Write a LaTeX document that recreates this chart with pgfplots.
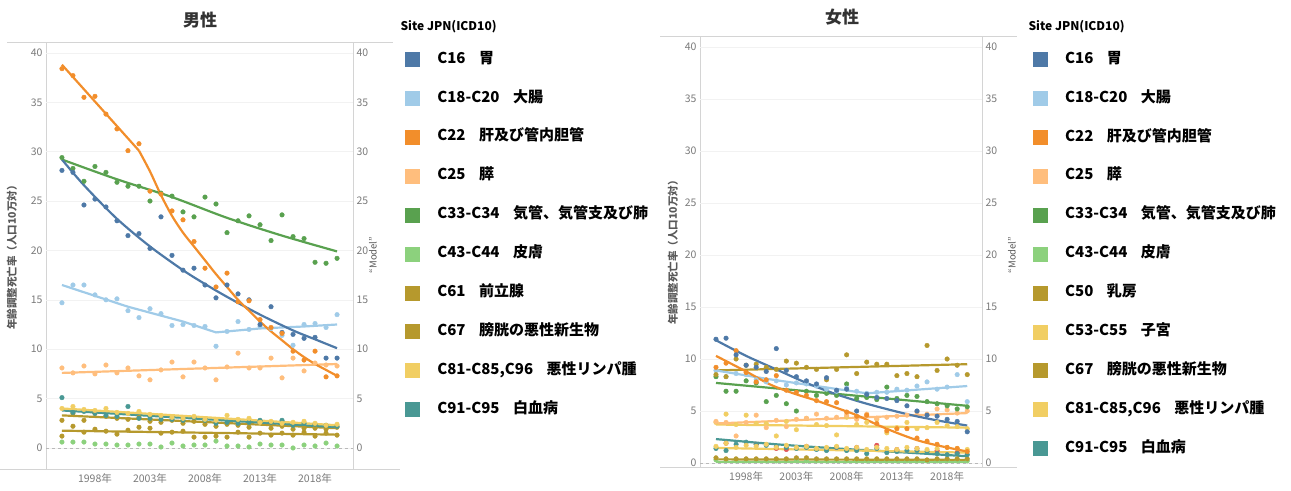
\documentclass[border=0pt]{standalone}
\usepackage{fontspec}
\setmainfont{Noto Sans CJK JP}
\usepackage{pgfplots}
\usepackage{pgfplotstable}
\pgfplotsset{compat=1.18}

\definecolor{cA}{HTML}{4E79A7}
\definecolor{cB}{HTML}{A0CBE8}
\definecolor{cC}{HTML}{F28E2B}
\definecolor{cD}{HTML}{FFBE7D}
\definecolor{cE}{HTML}{59A14F}
\definecolor{cF}{HTML}{8CD17D}
\definecolor{cG}{HTML}{B6992D}
\definecolor{cH}{HTML}{F1CE63}
\definecolor{cI}{HTML}{499894}
\definecolor{cR}{HTML}{E15759}
\definecolor{tick}{HTML}{7A7A7A}
\definecolor{frame}{HTML}{D4D4D4}

% male: age adjusted rates, 1995-2020
\pgfplotstableread{
yr   c16  c18  c22  c25  c33  c43 c61 c67 c81 c91
1995 28.1 14.7 38.4 8.1 29.4 0.6 2.8 1.2 4.0 5.1
1996 27.9 16.5 37.7 7.6 28.3 0.6 3.5 2.2 4.2 3.6
1997 24.6 16.5 35.5 8.3 27.0 0.6 2.8 1.6 3.9 3.7
1998 25.2 15.5 35.6 7.5 28.5 0.4 3.5 1.9 3.8 3.5
1999 24.4 15.0 33.8 8.4 27.9 0.4 3.2 1.7 4.0 3.3
2000 23.0 15.1 32.3 7.6 26.9 0.3 3.0 1.4 3.6 3.2
2001 21.5 13.9 30.1 8.1 26.5 0.3 2.9 1.8 3.5 4.2
2002 21.7 13.2 30.8 7.3 26.5 0.4 3.1 2.1 3.7 3.0
2003 20.2 14.1 26.0 6.9 25.0 0.4 2.7 2.0 3.4 3.0
2004 23.4 13.6 25.7 7.9 25.8 0.1 2.6 1.5 3.3 2.9
2005 19.5 12.4 24.0 8.7 25.5 0.5 2.8 1.6 3.1 2.9
2006 18.0 12.5 23.1 7.2 23.9 0.2 2.5 1.7 3.0 2.8
2007 18.2 12.4 20.9 8.7 23.4 0.3 2.7 1.1 3.2 3.1
2008 16.5 12.3 18.2 8.1 25.4 0.3 2.4 1.1 2.9 2.8
2009 15.2 10.3 16.3 6.9 24.7 0.7 2.2 1.2 2.8 2.5
2010 16.5 11.8 17.7 8.2 21.8 0.2 2.4 1.1 3.3 2.6
2011 15.6 12.8 14.8 9.6 23.0 0.2 2.3 1.6 2.9 2.5
2012 15.0 12.0 14.9 8.1 23.5 0.1 2.1 1.1 3.0 2.6
2013 12.5 12.3 13.0 8.1 22.6 0.4 2.6 1.5 2.6 2.8
2014 14.3 12.1 12.2 9.1 21.0 0.3 2.0 1.3 2.7 2.6
2015 11.7 11.4 11.6 7.1 23.6 0.3 2.2 1.5 2.5 2.8
2016 11.5 10.4 9.8  9.1 21.4 0.0 1.9 1.3 2.6 2.3
2017 11.1 12.5 8.9  7.8 21.2 0.3 2.0 1.6 2.7 2.5
2018 11.2 12.6 9.8  8.6 18.8 0.2 2.0 1.2 2.5 2.4
2019 9.1  12.2 7.2  8.4 18.7 0.5 1.9 1.5 2.3 2.3
2020 9.1  13.5 7.3  8.3 19.2 0.2 2.1 1.3 2.4 2.2
}\male

% female
\pgfplotstableread{
yr   f16  f18 f22  f25 f33 f43 f50  f53 f67 f81 f91
1995 11.9 8.9 9.2  4.0 8.3 0.3 8.5  3.9 0.5 1.6 1.4
1996 12.0 8.3 9.6  3.9 6.9 0.3 8.3  4.7 0.4 1.9 1.2
1997 10.4 8.6 10.8 2.6 6.9 0.2 10.0 3.7 0.4 1.5 1.8
1998 9.4  8.5 8.7  3.9 7.9 0.2 9.4  4.6 0.4 1.7 2.0
1999 9.2  8.0 7.8  4.6 7.7 0.3 9.5  3.8 0.4 1.6 1.8
2000 8.8  7.8 8.0  3.4 5.9 0.2 9.2  3.8 0.4 1.8 1.7
2001 11.0 7.9 8.4  4.1 6.5 0.2 9.0  2.6 0.4 1.5 1.6
2002 8.9  7.5 7.0  3.5 5.7 0.3 9.8  4.0 0.4 1.7 1.5
2003 8.3  7.7 6.8  4.2 5.0 0.3 9.6  3.2 0.5 1.5 1.4
2004 7.9  7.6 6.5  4.3 6.9 0.2 9.2  4.3 0.5 1.6 1.5
2005 7.6  7.4 6.0  4.7 6.5 0.2 9.0  3.7 0.4 1.4 1.3
2006 8.2  7.1 5.9  4.3 6.7 0.2 8.0  3.6 0.4 1.5 1.2
2007 7.0  6.9 5.8  4.4 6.5 0.3 9.0  2.7 0.4 1.6 1.5
2008 7.1  7.2 4.9  4.6 7.6 0.2 10.4 4.4 0.4 1.4 1.2
2009 5.0  6.9 4.5  4.2 6.2 0.2 8.6  3.7 0.4 1.5 1.2
2010 6.6  6.7 4.6  4.7 6.3 0.2 9.7  3.9 0.4 1.3 0.9
2011 6.3  6.8 3.8  4.3 6.1 0.3 9.5  4.2 0.4 1.5 1.4
2012 6.2  6.8 3.1  4.4 7.3 0.2 9.5  2.9 0.4 1.4 1.0
2013 6.0  7.1 3.3  4.5 6.2 0.2 8.4  3.4 0.4 1.3 1.1
2014 5.5  7.0 3.3  4.6 6.5 0.2 8.6  3.9 0.4 1.5 1.2
2015 5.0  7.4 2.4  4.9 6.4 0.2 8.3  3.3 0.4 1.4 1.2
2016 4.6  7.8 2.1  4.7 5.9 0.2 11.3 3.4 0.3 1.3 1.1
2017 4.5  7.1 1.8  5.2 5.7 0.2 8.9  3.9 0.4 1.4 0.9
2018 4.2  7.3 1.5  5.1 5.5 0.3 10.0 3.6 0.4 1.5 0.8
2019 4.0  8.5 1.4  4.8 5.2 0.2 9.4  3.5 0.4 1.4 0.9
2020 3.0  5.9 1.1  5.0 5.4 0.2 8.5  3.3 0.4 1.3 0.8
}\female

\pgfplotsset{
  legend image code/.code={\fill[#1, draw=none] (0bp,-7.5bp) rectangle (15bp,7.5bp);},
  panel/.style={
    scale only axis, anchor=south west,
    axis line style={draw=none}, tick style={draw=none},
    ytick={0,5,...,40},
    ymajorgrids, grid style={gray!10, line width=0.6bp},
    extra y ticks={0}, extra y tick labels={},
    extra y tick style={grid=major, grid style={dashed, gray!55, line width=0.6bp}},
    xtick={1998,2003,2008,2013,2018},
    xticklabels={1998年,2003年,2008年,2013年,2018年},
    ticklabel style={font=\fontsize{10.5bp}{12bp}\selectfont, text=tick},
    /pgf/number format/assume math mode=true,
    legend cell align=left,
    legend style={draw=none, fill=none, anchor=north west,
      font=\bfseries\fontsize{15bp}{15bp}\selectfont,
      row sep=23.9bp, column sep=17bp,
      nodes={inner sep=0pt, text height=11bp, text depth=4bp}},
  },
  rightax/.style={
    scale only axis, anchor=south west, hide x axis,
    axis line style={draw=none}, tick style={draw=none},
    ytick={0,5,...,40}, yticklabel pos=right,
    ticklabel style={font=\fontsize{10.5bp}{12bp}\selectfont, text=tick},
    /pgf/number format/assume math mode=true,
  },
  pts/.style={only marks, mark=*, color=#1, mark size=2.3bp, forget plot},
  trend/.style={draw=#1, line width=2.2bp, no marks, forget plot},
}

\begin{document}
\begin{tikzpicture}
\path[use as bounding box] (0bp,0bp) rectangle (1291bp,491bp);

% pane borders
\draw[frame, line width=1bp] (7bp,448bp) -- (393bp,448bp);
\draw[frame, line width=1bp] (0bp,21bp) -- (400bp,21bp);
\draw[frame, line width=0.8bp] (46bp,21bp) -- (46bp,448bp);
\draw[frame, line width=0.8bp] (353bp,21bp) -- (353bp,448bp);
\draw[frame, line width=1bp] (660bp,454bp) -- (1017bp,454bp);
\draw[frame, line width=1bp] (660bp,23bp) -- (1017bp,23bp);
\draw[frame, line width=0.8bp] (700bp,23bp) -- (700bp,454bp);
\draw[frame, line width=0.8bp] (982bp,23bp) -- (982bp,454bp);

% titles and labels
\node[font=\bfseries\fontsize{17bp}{17bp}\selectfont, text=black!80] at (200bp,471bp) {男性};
\node[font=\bfseries\fontsize{17bp}{17bp}\selectfont, text=black!80] at (842bp,474bp) {女性};
\node[anchor=west, font=\bfseries\fontsize{12bp}{12bp}\selectfont] at (397bp,464bp) {Site JPN(ICD10)};
\node[anchor=west, font=\bfseries\fontsize{12bp}{12bp}\selectfont] at (1025bp,464bp) {Site JPN(ICD10)};
\node[rotate=90, font=\bfseries\fontsize{10.5bp}{11bp}\selectfont, text=black!65] at (12bp,236bp) {年齢調整死亡率（人口10万対）};
\node[rotate=90, font=\bfseries\fontsize{10.5bp}{11bp}\selectfont, text=black!65] at (673bp,241bp) {年齢調整死亡率（人口10万対）};
\node[rotate=90, font=\fontsize{9.5bp}{10bp}\selectfont, text=black!65] at (373bp,236bp) {“Model”};
\node[rotate=90, font=\fontsize{9.5bp}{10bp}\selectfont, text=black!65] at (1012bp,236bp) {“Model”};

% ---------------- male ----------------
\begin{axis}[panel, at={(46bp,21bp)}, width=307bp, height=427bp,
  xmin=1993.55, xmax=2021.45, ymin=-2.23, ymax=41.0,
  legend style={at={(1.1600,0.9836)}}]
  \addplot[pts=cF] table[x=yr,y=c43]{\male};
  \addplot[pts=cG] table[x=yr,y=c67]{\male};
  \addplot[pts=cG] table[x=yr,y=c61]{\male};
  \addplot[pts=cI] table[x=yr,y=c91]{\male};
  \addplot[pts=cH] table[x=yr,y=c81]{\male};
  \addplot[pts=cD] table[x=yr,y=c25]{\male};
  \addplot[pts=cB] table[x=yr,y=c18]{\male};
  \addplot[pts=cE] table[x=yr,y=c33]{\male};
  \addplot[pts=cA] table[x=yr,y=c16]{\male};
  \addplot[pts=cC] table[x=yr,y=c22]{\male};
  % fitted lines
  \addplot[trend=cG] coordinates {(1995,1.75)(2020,1.35)};
  \addplot[trend=cG] coordinates {(1995,3.3)(2020,2.0)};
  \addplot[trend=cI] coordinates {(1995,3.8)(2020,2.1)};
  \addplot[trend=cH] coordinates {(1995,4.0)(2020,2.3)};
  \addplot[trend=cD] coordinates {(1995,7.6)(2020,8.5)};
  \addplot[trend=cB] coordinates {(1995,16.5)(1998,15.4)(2001,14.3)(2004,13.4)(2006,12.8)(2009,11.7)(2013,12.1)(2017,12.3)(2020,12.5)};
  \addplot[trend=cE, smooth] coordinates {(1995,29.2)(2000,27.2)(2005,25.4)(2010,23.3)(2015,21.5)(2020,19.9)};
  \addplot[trend=cA, smooth] coordinates {(1995,29.2)(1997,26.6)(2000,23.2)(2003,20.4)(2006,18.0)(2008,16.6)(2010,15.3)(2013,13.5)(2016,11.9)(2018,11.0)(2020,10.1)};
  \addplot[trend=cC] coordinates {(1995,38.8)(2002,30.1)};
  \addplot[trend=cC, smooth] coordinates {(2002,30.1)(2003,28.0)(2004,25.6)(2005,23.5)(2006,21.8)(2007,20.4)(2008,19.0)(2009,17.6)(2010,16.3)(2011,15.0)(2012,13.9)(2013,12.8)(2014,11.8)(2015,10.9)(2016,10.0)(2017,9.2)(2018,8.5)(2019,7.9)(2020,7.3)};
  % legend
  \addlegendimage{fill=cA}\addlegendentry{C16\hspace{0.9em}胃}
  \addlegendimage{fill=cB}\addlegendentry{C18-C20\hspace{0.9em}大腸}
  \addlegendimage{fill=cC}\addlegendentry{C22\hspace{0.9em}肝及び管内胆管}
  \addlegendimage{fill=cD}\addlegendentry{C25\hspace{0.9em}膵}
  \addlegendimage{fill=cE}\addlegendentry{C33-C34\hspace{0.9em}気管、気管支及び肺}
  \addlegendimage{fill=cF}\addlegendentry{C43-C44\hspace{0.9em}皮膚}
  \addlegendimage{fill=cG}\addlegendentry{C61\hspace{0.9em}前立腺}
  \addlegendimage{fill=cG}\addlegendentry{C67\hspace{0.9em}膀胱の悪性新生物}
  \addlegendimage{fill=cH}\addlegendentry{C81-C85,C96\hspace{0.9em}悪性リンパ腫}
  \addlegendimage{fill=cI}\addlegendentry{C91-C95\hspace{0.9em}白血病}
\end{axis}
\begin{axis}[rightax, at={(46bp,21bp)}, width=307bp, height=427bp,
  xmin=1993.55, xmax=2021.45, ymin=-2.23, ymax=41.0]
\end{axis}

% ---------------- female ----------------
\begin{axis}[panel, at={(700bp,23bp)}, width=282bp, height=431bp,
  xmin=1993.41, xmax=2021.47, ymin=-0.48, ymax=40.96,
  legend style={at={(1.1700,0.9698)}}]
  \addplot[pts=cF] table[x=yr,y=f43]{\female};
  \addplot[pts=cG] table[x=yr,y=f67]{\female};
  \addplot[pts=cR] coordinates {(1996,1.9)(1999,1.8)(2001,1.4)(2002,1.3)(2004,1.6)(2007,1.5)(2009,1.5)(2011,1.7)(2013,1.3)(2015,1.4)(2017,1.2)(2019,1.0)};
  \addplot[pts=cI] table[x=yr,y=f91]{\female};
  \addplot[pts=cH] table[x=yr,y=f81]{\female};
  \addplot[pts=cH] table[x=yr,y=f53]{\female};
  \addplot[pts=cD] table[x=yr,y=f25]{\female};
  \addplot[pts=cE] table[x=yr,y=f33]{\female};
  \addplot[pts=cB] table[x=yr,y=f18]{\female};
  \addplot[pts=cC] table[x=yr,y=f22]{\female};
  \addplot[pts=cG] table[x=yr,y=f50]{\female};
  \addplot[pts=cA] table[x=yr,y=f16]{\female};
  % fitted lines
  \addplot[trend=cG] coordinates {(1995,0.35)(2020,0.3)};
  \addplot[trend=cF] coordinates {(1995,0.1)(2020,0.1)};
  \addplot[trend=cI, smooth] coordinates {(1995,2.3)(2001,1.8)(2007,1.4)(2014,1.0)(2020,0.65)};
  \addplot[trend=cH] coordinates {(1995,1.45)(2020,1.0)};
  \addplot[trend=cH] coordinates {(1995,3.7)(2020,3.4)};
  \addplot[trend=cD] coordinates {(1995,3.8)(2020,4.8)};
  \addplot[trend=cE] coordinates {(1995,7.7)(2020,5.5)};
  \addplot[trend=cG] coordinates {(1995,8.9)(2020,9.5)};
  \addplot[trend=cB] coordinates {(1995,8.9)(2000,8.1)(2005,7.4)(2010,6.7)(2015,7.05)(2020,7.4)};
  \addplot[trend=cC, smooth] coordinates {(1995,10.3)(1998,8.8)(2000.5,7.5)(2003,6.6)(2005,6.0)(2007,5.3)(2009,4.6)(2011,3.7)(2013,2.9)(2015,2.2)(2017,1.7)(2020,1.1)};
  \addplot[trend=cA, smooth] coordinates {(1995,11.8)(1998,10.3)(2001,9.0)(2004,7.7)(2007,6.6)(2010,5.7)(2014,4.7)(2017,4.1)(2020,3.6)};
  % legend
  \addlegendimage{fill=cA}\addlegendentry{C16\hspace{0.9em}胃}
  \addlegendimage{fill=cB}\addlegendentry{C18-C20\hspace{0.9em}大腸}
  \addlegendimage{fill=cC}\addlegendentry{C22\hspace{0.9em}肝及び管内胆管}
  \addlegendimage{fill=cD}\addlegendentry{C25\hspace{0.9em}膵}
  \addlegendimage{fill=cE}\addlegendentry{C33-C34\hspace{0.9em}気管、気管支及び肺}
  \addlegendimage{fill=cF}\addlegendentry{C43-C44\hspace{0.9em}皮膚}
  \addlegendimage{fill=cG}\addlegendentry{C50\hspace{0.9em}乳房}
  \addlegendimage{fill=cH}\addlegendentry{C53-C55\hspace{0.9em}子宮}
  \addlegendimage{fill=cG}\addlegendentry{C67\hspace{0.9em}膀胱の悪性新生物}
  \addlegendimage{fill=cH}\addlegendentry{C81-C85,C96\hspace{0.9em}悪性リンパ腫}
  \addlegendimage{fill=cI}\addlegendentry{C91-C95\hspace{0.9em}白血病}
\end{axis}
\begin{axis}[rightax, at={(700bp,23bp)}, width=282bp, height=431bp,
  xmin=1993.41, xmax=2021.47, ymin=-0.48, ymax=40.96]
\end{axis}
\end{tikzpicture}
\end{document}
